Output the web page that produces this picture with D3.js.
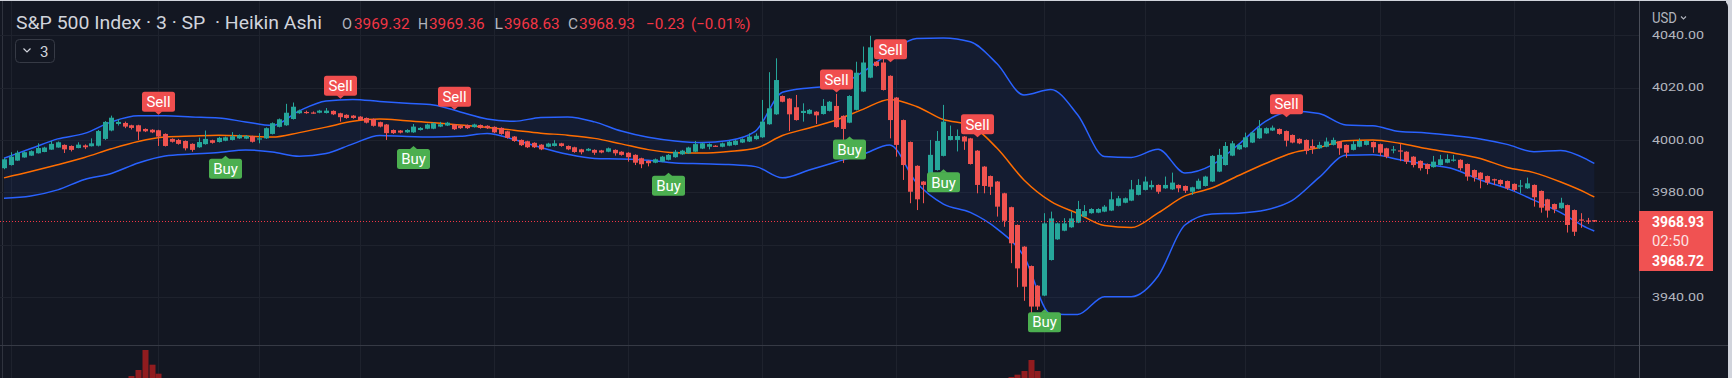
<!DOCTYPE html>
<html>
<head>
<meta charset="utf-8">
<script src="https://cdn.jsdelivr.net/npm/d3@7"></script>
<style>
  html, body { margin: 0; padding: 0; background: #d1d4dc; overflow: hidden; }
  svg { display: block; }
  text { font-family: Roboto, "Noto Sans", sans-serif; }
</style>
</head>
<body>
<div id="chart-area"></div>
<script>
// Heikin Ashi candles, one row per 3 min bar: open, close, high, low
var haCandles = [
  [3989.2,3992.6,3993.0,3988.8],[3990.4,3993.6,3995.3,3990.2],[3992.1,3995.1,3995.9,3992.0],[3993.3,3995.3,3995.6,3993.2],
  [3994.0,3995.7,3996.0,3993.9],[3994.9,3996.9,3998.7,3994.8],[3995.4,3997.1,3997.4,3995.3],[3996.3,3998.5,3999.6,3996.2],
  [3997.1,3999.1,3999.4,3997.0],[3998.1,3996.4,3998.3,3995.0],[3997.7,3996.2,3997.9,3995.6],[3996.9,3998.2,3999.1,3996.8],
  [3997.9,3997.2,3998.3,3996.5],[3997.6,3998.7,4000.6,3997.5],[3997.8,4003.4,4003.8,3997.5],[4000.4,4006.9,4007.2,4000.0],
  [4003.6,4008.5,4009.3,4003.3],[4006.1,4006.9,4008.0,4005.5],[4006.5,4005.1,4007.0,4004.5],[4005.6,4004.6,4005.8,4004.0],
  [4005.6,4003.2,4005.8,4000.0],[4004.2,4003.3,4004.4,4003.0],[4003.9,4002.9,4004.1,4002.6],[4003.7,4001.3,4003.9,3997.7],
  [4002.3,3997.7,4002.5,3997.5],[4000.4,3999.3,4000.6,3999.0],[4000.0,3998.5,4000.4,3998.2],[3999.6,3996.8,3999.8,3996.0],
  [3998.5,3996.2,3998.7,3995.5],[3997.2,3999.2,4000.9,3997.0],[3998.4,4000.4,4003.6,3998.2],[3999.9,3998.9,4000.1,3998.6],
  [3999.2,4000.8,4001.2,3999.0],[3999.7,4001.0,4001.3,3999.5],[4000.0,4001.4,4003.0,3999.8],[4000.6,4001.8,4002.1,4000.4],
  [4000.5,4001.5,4001.8,4000.3],[4001.4,3999.3,4001.6,3999.0],[4000.3,4000.6,4002.6,3998.7],[4000.6,4004.5,4004.8,4000.4],
  [4002.3,4006.4,4006.7,4002.1],[4005.0,4007.9,4008.2,4004.8],[4005.6,4010.4,4013.8,4005.4],[4008.0,4012.7,4014.3,4007.8],
  [4010.2,4011.2,4011.6,4010.0],[4010.7,4010.3,4011.2,4010.0],[4010.5,4010.3,4010.9,4010.0],[4010.4,4011.2,4011.5,4010.2],
  [4010.3,4011.2,4012.2,4010.1],[4011.1,4009.8,4011.3,4009.5],[4010.2,4008.7,4010.4,4007.0],[4009.6,4008.4,4009.8,4008.1],
  [4009.3,4008.4,4009.5,4008.1],[4008.9,4007.6,4009.1,4007.3],[4008.4,4006.6,4008.6,4006.3],[4008.0,4005.4,4008.2,4005.1],
  [4006.8,4005.1,4007.0,4004.8],[4005.9,4002.6,4006.1,4000.0],[4003.8,4002.6,4004.0,4002.3],[4003.6,4002.8,4003.8,4002.5],
  [4002.9,4003.8,4004.1,4002.7],[4002.9,4005.1,4006.1,4002.7],[4003.8,4004.6,4004.9,4003.6],[4004.3,4005.9,4006.2,4004.1],
  [4004.3,4006.4,4006.7,4004.1],[4005.1,4006.0,4006.9,4004.9],[4005.5,4006.6,4006.9,4005.3],[4005.9,4004.1,4006.1,4003.8],
  [4005.5,4004.5,4005.7,4004.2],[4005.7,4004.5,4005.9,4004.2],[4004.9,4005.9,4006.2,4004.7],[4005.7,4004.6,4005.9,4004.3],
  [4005.4,4004.5,4005.6,4004.2],[4005.0,4002.9,4005.2,4002.6],[4004.6,4002.3,4004.8,4002.0],[4003.3,4000.8,4003.5,4000.5],
  [4001.3,3999.6,4001.5,3999.3],[4000.0,3998.0,4000.2,3997.7],[3999.5,3997.2,3999.7,3996.9],[3998.9,3997.2,3999.1,3996.9],
  [3998.2,3996.4,3998.4,3996.1],[3997.4,3998.6,3998.9,3997.2],[3997.7,3998.7,3999.9,3997.5],[3998.7,3997.7,3998.9,3997.4],
  [3997.7,3996.4,3997.9,3996.1],[3997.2,3995.4,3997.4,3995.1],[3996.4,3995.3,3996.6,3994.5],[3995.9,3996.6,3996.9,3995.7],
  [3996.2,3995.1,3996.4,3994.3],[3996.0,3995.2,3996.2,3994.9],[3995.5,3996.8,3997.1,3995.3],[3996.2,3994.9,3996.4,3994.0],
  [3995.5,3994.3,3995.7,3994.0],[3995.1,3993.4,3995.3,3991.7],[3994.3,3991.3,3994.5,3990.4],[3993.0,3990.7,3993.2,3989.2],
  [3992.0,3991.1,3992.2,3989.9],[3991.3,3992.6,3992.9,3991.1],[3991.7,3993.6,3993.9,3991.5],[3992.4,3994.3,3994.6,3992.2],
  [3993.4,3995.5,3996.2,3993.2],[3994.5,3995.9,3996.2,3994.3],[3994.9,3997.1,3997.4,3994.7],[3995.5,3998.4,3999.6,3995.3],
  [3996.7,3998.7,3999.0,3996.5],[3997.4,3998.4,3998.7,3996.4],[3997.8,3997.6,3998.0,3997.4],[3997.4,3998.7,3999.0,3997.2],
  [3997.8,3999.3,3999.6,3997.6],[3998.1,3999.7,4000.0,3997.9],[3999.0,4000.3,4000.6,3998.8],[3999.4,4001.3,4002.5,3999.2],
  [4000.3,4001.6,4002.5,4000.1],[4001.0,4007.0,4015.3,4000.8],[4006.0,4012.1,4025.9,4005.8],[4009.8,4022.9,4031.2,4009.6],
  [4016.8,4014.6,4017.0,4014.4],[4015.8,4009.8,4016.0,4003.4],[4012.5,4007.6,4017.2,4007.4],[4010.3,4011.1,4014.0,4007.0],
  [4010.0,4011.5,4011.8,4009.8],[4010.8,4009.4,4011.0,4006.1],[4009.9,4013.0,4015.6,4009.7],[4011.1,4014.6,4014.9,4010.9],
  [4013.0,4004.9,4017.6,4004.7],[4009.2,4004.2,4009.4,3991.2],[4006.6,4016.8,4017.1,4006.4],[4011.5,4025.7,4029.9,4011.3],
  [4018.5,4029.6,4035.7,4018.3],[4023.8,4035.4,4039.8,4023.6],[4029.9,4028.3,4030.1,4028.0],[4029.6,4019.1,4031.0,4018.9],
  [4024.5,4007.6,4024.7,4000.6],[4016.2,3998.1,4016.4,3993.6],[4007.6,3990.4,4007.8,3984.7],[3999.2,3980.2,3999.4,3975.8],
  [3990.1,3977.3,3990.3,3973.2],[3984.1,3982.8,3984.3,3975.8],[3983.4,3994.3,4000.0,3983.2],[3988.5,3999.6,4003.4,3988.3],
  [3993.9,4007.0,4013.4,3993.7],[4000.0,4001.5,4005.5,3999.8],[4000.0,4001.5,4004.0,3995.6],[4001.3,3999.4,4001.5,3996.2],
  [4000.6,3990.8,4000.8,3990.6],[3995.9,3982.8,3996.1,3979.6],[3989.8,3982.4,3990.0,3979.6],[3986.2,3982.1,3986.4,3979.0],
  [3984.1,3974.5,3984.3,3970.7],[3979.6,3969.1,3979.8,3966.8],[3974.3,3960.5,3974.5,3952.9],[3967.5,3950.9,3967.7,3943.7],
  [3959.2,3943.9,3959.4,3938.5],[3951.8,3936.3,3952.0,3933.8],[3944.3,3936.3,3944.5,3935.0],[3940.5,3968.1,3972.0,3940.3],
  [3954.1,3970.0,3972.6,3953.9],[3962.0,3968.1,3968.4,3961.8],[3965.3,3968.1,3970.1,3965.1],[3966.6,3970.0,3972.6,3966.4],
  [3968.4,3973.6,3976.7,3968.2],[3970.7,3972.8,3975.1,3970.5],[3972.0,3973.6,3973.9,3971.8],[3972.2,3973.6,3973.9,3972.0],
  [3972.6,3974.5,3975.1,3972.4],[3973.0,3977.3,3980.2,3972.8],[3974.8,3977.7,3978.6,3974.6],[3976.0,3977.7,3978.0,3975.8],
  [3976.8,3981.1,3984.7,3976.6],[3979.0,3982.8,3985.0,3978.8],[3980.9,3984.1,3986.0,3980.7],[3981.9,3982.8,3984.5,3981.0],
  [3982.8,3980.2,3983.0,3979.4],[3981.5,3982.8,3986.0,3981.3],[3981.1,3983.7,3987.5,3980.9],[3982.8,3981.5,3983.0,3980.0],
  [3982.4,3980.6,3982.6,3979.7],[3980.2,3981.9,3982.1,3979.0],[3981.3,3984.4,3985.2,3981.1],[3982.4,3986.0,3986.3,3982.2],
  [3984.1,3993.9,3994.2,3983.9],[3987.9,3994.3,3996.6,3987.7],[3990.4,3997.7,3999.2,3990.2],[3994.0,3998.7,3999.6,3993.8],
  [3996.4,3998.1,3998.4,3996.2],[3997.2,4001.0,4002.8,3997.0],[3999.0,4002.8,4003.1,3998.8],[4000.6,4004.5,4007.6,4000.4],
  [4002.5,4004.5,4004.8,4002.3],[4003.6,4004.7,4005.5,4003.4],[4004.2,4002.3,4004.4,4002.0],[4003.4,3999.7,4003.6,3997.5],
  [4001.9,3999.0,4002.1,3998.7],[4000.4,3998.7,4000.6,3998.4],[4000.0,3995.8,4000.2,3994.5],[3997.7,3996.8,4000.2,3994.7],
  [3996.8,3998.1,3999.3,3996.6],[3997.4,3999.4,4000.9,3997.2],[3998.1,4000.0,4000.9,3997.9],[3999.4,3996.8,3999.6,3994.3],
  [3998.1,3995.1,3998.3,3993.2],[3996.2,3998.4,3999.6,3996.0],[3997.4,3999.6,4000.6,3997.2],[3998.1,3999.6,3999.9,3997.9],
  [3999.2,3997.2,3999.4,3995.1],[3998.4,3995.1,3998.6,3993.9],[3996.8,3993.6,3997.0,3993.0],[3996.0,3996.4,3997.7,3994.9],
  [3996.0,3995.7,3998.4,3991.9],[3995.5,3991.7,3995.7,3990.8],[3993.6,3990.4,3993.8,3989.5],[3992.0,3989.2,3992.2,3988.3],
  [3990.8,3988.9,3991.0,3986.9],[3989.6,3991.7,3993.9,3989.4],[3990.4,3992.6,3994.3,3990.2],[3991.3,3992.7,3994.5,3991.1],
  [3992.2,3992.5,3994.3,3991.7],[3992.4,3989.2,3992.6,3988.3],[3990.8,3986.0,3991.0,3984.4],[3988.5,3985.7,3988.7,3984.1],
  [3987.5,3985.0,3987.7,3981.5],[3986.2,3983.7,3986.4,3982.8],[3985.0,3984.5,3985.2,3982.8],[3984.7,3983.1,3984.9,3982.4],
  [3984.3,3981.5,3984.5,3980.9],[3983.2,3980.9,3983.4,3980.3],[3982.2,3982.6,3984.7,3979.6],[3981.5,3983.4,3985.6,3981.3],
  [3982.8,3978.1,3983.0,3974.5],[3980.5,3974.1,3980.7,3972.2],[3977.3,3973.0,3977.5,3970.3],[3975.5,3973.5,3975.7,3972.0],
  [3973.9,3976.0,3977.9,3973.7],[3975.1,3967.5,3975.3,3964.6],[3973.2,3964.9,3973.4,3963.3],[3969.6,3969.2,3972.0,3966.4],
  [3969.2,3968.9,3970.2,3967.9],[3969.32,3968.93,3969.36,3968.63]
];

// Bollinger bands, read every 4th bar
var bandIdx = [0,4,8,12,16,20,24,28,32,36,40,44,48,52,56,60,64,68,72,76,80,84,88,92,96,100,104,108,112,116,
  120,124,128,132,136,140,144,148,152,156,160,164,168,172,176,180,184,188,192,196,200,204,208,212,216,220,224,228,232,236,237];
var upperBand = [3993.0,3996.7,4000.4,4002.5,4006.9,4009.2,4009.2,4008.8,4008.4,4006.9,4005.5,4011.1,4014.9,4015.5,4014.7,
  4014.0,4013.4,4010.7,4008.0,4007.1,4008.6,4008.8,4006.9,4003.4,4001.0,3999.6,3999.0,3999.8,4003.4,4018.2,
  4019.9,4020.8,4026.0,4033.3,4038.8,4039.0,4037.5,4029.1,4017.2,4019.3,4009.6,3993.7,3993.3,3996.4,3987.4,
  3990.4,3998.3,4007.1,4011.1,4010.1,4005.7,4005.4,4003.2,4002.7,4001.7,4000.4,3998.3,3995.5,3996.0,3992.4,3991.0];
var basisBand = [3985.5,3987.9,3990.5,3993.3,3996.6,3999.4,4001.1,4001.5,4001.8,4001.5,4001.1,4002.8,4004.9,4007.1,4008.0,
  4007.3,4006.6,4005.7,4004.8,4003.7,4002.6,4001.8,4000.6,3998.5,3996.3,3995.1,3995.0,3995.6,3996.8,4001.7,
  4004.6,4007.6,4011.7,4015.5,4012.8,4007.8,4005.6,3996.8,3984.7,3976.5,3971.9,3967.3,3966.5,3972.1,3978.6,
  3981.6,3986.4,3991.0,3995.0,3997.1,3999.7,4000.0,3998.7,3996.7,3995.0,3992.9,3989.5,3987.5,3983.9,3979.5,3978.2];
var lowerBand = [3977.7,3978.6,3980.9,3984.9,3987.2,3991.2,3993.9,3994.6,3995.2,3996.2,3995.4,3993.8,3994.8,3998.5,4001.7,
  4001.3,4001.1,4001.4,4002.5,4000.2,3997.1,3994.5,3992.9,3992.7,3992.2,3991.2,3990.9,3990.6,3989.8,3985.5,
  3988.5,3991.6,3994.5,3998.1,3983.6,3975.5,3972.3,3966.0,3955.5,3933.5,3933.3,3940.1,3940.1,3948.0,3967.5,
  3971.7,3972.0,3973.2,3976.9,3985.7,3994.1,3994.3,3992.4,3990.6,3988.9,3984.7,3981.5,3977.0,3972.2,3966.3,3965.2];

// Buy / Sell signals (bar index, price at the label tip)
var sellIdx = [23, 50, 67, 124, 132, 145, 191];
var sellPrice = [4009.6, 4015.7, 4011.5, 4018.1, 4029.7, 4001.0, 4008.7];
var buyIdx = [33, 61, 99, 126, 140, 155];
var buyPrice = [3994.0, 3997.7, 3987.5, 4001.3, 3988.8, 3935.3];

// lower pane histogram
var histIdx = [19, 20, 21, 22, 23, 150, 151, 152, 153, 154];
var histVals = [2, 8, 28, 13.3, 4.3, 1, 3.3, 7, 18, 7];

var priceTicks = [4040, 4020, 4000, 3980, 3960, 3940];
var priceLabels = [4040, 4020, 4000, 3980, 3940];   // 3960 sits under the last price tag
var timeGridIdx = [1, 23, 38, 53, 73, 93, 113, 133, 155, 170, 185, 205, 225, 240];

var headerChange = "\u22120.23", headerPct = "(\u22120.01%)";
var bidLabel = "3968.72", countdown = "02:50";

var width = 1732, height = 378;
var plotW = 1639, mainH = 345;
var bg = "#131722", up = "#26a69a", down = "#ef5350";

var svg = d3.select("#chart-area")
    .append("svg")
        .attr("width", width)
        .attr("height", height);

// dark panel on light frame
svg.append("rect")
    .attr("x", -10).attr("y", 1)
    .attr("width", 1738).attr("height", 400)
    .attr("rx", 6)
    .attr("fill", bg);
svg.append("line")
    .attr("x1", 2.5).attr("x2", 2.5).attr("y1", 1).attr("y2", height)
    .attr("stroke", "#2f333e");

var x = d3.scaleLinear().domain([0, 237]).range([4, 1594.3]);
var y = d3.scaleLinear().domain([3940, 4040]).range([296.9, 35.3]);
var yh = d3.scaleLinear().domain([0, 30]).range([378, 348]);

// grid
var grid = svg.append("g");
grid.selectAll(".hgrid")
    .data(priceTicks)
    .enter().append("line")
        .attr("x1", 0).attr("x2", plotW)
        .attr("y1", d => Math.round(y(d)) + 0.5)
        .attr("y2", d => Math.round(y(d)) + 0.5)
        .attr("stroke", "#1e222d");
grid.selectAll(".vgrid")
    .data(timeGridIdx)
    .enter().append("line")
        .attr("x1", d => Math.round(x(d)) + 0.5)
        .attr("x2", d => Math.round(x(d)) + 0.5)
        .attr("y1", 1).attr("y2", height)
        .attr("stroke", "#1e222d");

svg.append("clipPath").attr("id", "plot-clip")
    .append("rect").attr("x", 0).attr("y", 0).attr("width", plotW).attr("height", mainH);

var g = svg.append("g").attr("clip-path", "url(#plot-clip)");

// Bollinger bands
var bands = bandIdx.map((d, i) => ({ i: d, u: upperBand[i], m: basisBand[i], l: lowerBand[i] }));

g.append("path")
    .datum(bands)
    .attr("fill", "rgba(41, 98, 255, 0.07)")
    .attr("d", d3.area()
        .x(d => x(d.i))
        .y0(d => y(d.l))
        .y1(d => y(d.u))
        .curve(d3.curveMonotoneX));

[["u", "#2962ff"], ["l", "#2962ff"], ["m", "#ff6d00"]].forEach(function (s) {
    g.append("path")
        .datum(bands)
        .attr("fill", "none")
        .attr("stroke", s[1])
        .attr("stroke-width", 1.5)
        .attr("d", d3.line()
            .x(d => x(d.i))
            .y(d => y(d[s[0]]))
            .curve(d3.curveMonotoneX));
});

// candles
var candles = g.selectAll(".candle")
    .data(haCandles)
    .enter().append("g");

candles.append("line")
    .attr("x1", (d, i) => Math.round(x(i)) + 0.5)
    .attr("x2", (d, i) => Math.round(x(i)) + 0.5)
    .attr("y1", d => y(d[2]))
    .attr("y2", d => y(d[3]))
    .attr("stroke", d => d[1] >= d[0] ? up : down);

candles.append("rect")
    .attr("x", (d, i) => Math.round(x(i)) - 2)
    .attr("width", 5)
    .attr("y", d => y(Math.max(d[0], d[1])))
    .attr("height", d => Math.max(1.2, Math.abs(y(d[0]) - y(d[1]))))
    .attr("fill", d => d[1] >= d[0] ? up : down);

// last price line
var lastClose = haCandles[haCandles.length - 1][1];
g.append("line")
    .attr("x1", 0).attr("x2", plotW)
    .attr("y1", Math.round(y(lastClose)) + 0.5)
    .attr("y2", Math.round(y(lastClose)) + 0.5)
    .attr("stroke", "#f23645")
    .attr("stroke-dasharray", "1,2");

// signal labels
function drawLabel(idx, price, text, color, isSell) {
    var cx = Math.round(x(idx)) + 0.5, ty = y(price);
    var w = 33, h = 20, tri = 3;
    var top = isSell ? ty - tri - h : ty + tri;
    var lab = g.append("g");
    lab.append("rect")
        .attr("x", cx - w / 2).attr("y", top)
        .attr("width", w).attr("height", h)
        .attr("rx", 2.5)
        .attr("fill", color);
    lab.append("path")
        .attr("d", isSell
            ? "M" + (cx - 4) + "," + (ty - tri - 0.5) + "L" + cx + "," + ty + "L" + (cx + 4) + "," + (ty - tri - 0.5) + "Z"
            : "M" + (cx - 4) + "," + (ty + tri + 0.5) + "L" + cx + "," + ty + "L" + (cx + 4) + "," + (ty + tri + 0.5) + "Z")
        .attr("fill", color);
    lab.append("text")
        .attr("x", cx).attr("y", top + h / 2 + 5.3)
        .attr("text-anchor", "middle")
        .attr("font-size", "15px")
        .attr("fill", "#ffffff")
        .text(text);
}
sellIdx.forEach((d, i) => drawLabel(d, sellPrice[i], "Sell", "#f04e4e", true));
buyIdx.forEach((d, i) => drawLabel(d, buyPrice[i], "Buy", "#4caf50", false));

// lower pane
svg.append("g").selectAll("rect")
    .data(histIdx)
    .enter().append("rect")
        .attr("x", d => Math.round(x(d)) - 2.5)
        .attr("width", 6)
        .attr("y", (d, i) => yh(histVals[i]))
        .attr("height", (d, i) => yh(0) - yh(histVals[i]))
        .attr("fill", "#911c1f");

// separators
svg.append("line")
    .attr("x1", 0).attr("x2", 1728)
    .attr("y1", mainH + 0.5).attr("y2", mainH + 0.5)
    .attr("stroke", "#363a45");
svg.append("line")
    .attr("x1", plotW + 0.5).attr("x2", plotW + 0.5)
    .attr("y1", 1).attr("y2", height)
    .attr("stroke", "#4a4e59");

// price axis
var yAxisCall = d3.axisRight(y)
    .tickValues(priceLabels)
    .tickSize(0)
    .tickPadding(13)
    .tickFormat(d3.format(".2f"));

var yAxisG = svg.append("g")
    .attr("transform", "translate(" + plotW + ",0)")
    .attr("font-family", "Roboto, sans-serif")
    .attr("font-size", 15)
    .call(yAxisCall);
yAxisG.select(".domain").remove();
yAxisG.selectAll("text")
    .attr("fill", "#b2b5be")
    .attr("textLength", 52)
    .attr("lengthAdjust", "spacingAndGlyphs");

// currency button over the top of the axis
svg.append("rect")
    .attr("x", plotW + 1).attr("y", 1)
    .attr("width", 86).attr("height", 29)
    .attr("fill", bg);
svg.append("text")
    .attr("x", plotW + 13).attr("y", 23)
    .attr("font-size", "15px")
    .attr("fill", "#b2b5be")
    .attr("textLength", 25)
    .attr("lengthAdjust", "spacingAndGlyphs")
    .text("USD");
svg.append("path")
    .attr("d", "M1681,16.5L1683.5,19L1686,16.5")
    .attr("fill", "none")
    .attr("stroke", "#b2b5be")
    .attr("stroke-width", 1.1);

// last price label
var ly = Math.round(y(lastClose));
svg.append("rect")
    .attr("x", plotW).attr("y", ly - 10)
    .attr("width", 74).attr("height", 60)
    .attr("fill", "#f05252");
svg.append("text")
    .attr("x", plotW + 13).attr("y", ly + 6)
    .attr("font-size", "15px").attr("font-weight", "bold")
    .attr("fill", "#ffffff")
    .attr("textLength", 52).attr("lengthAdjust", "spacingAndGlyphs")
    .text(d3.format(".2f")(lastClose));
svg.append("text")
    .attr("x", plotW + 13).attr("y", ly + 25)
    .attr("font-size", "15px")
    .attr("fill", "rgba(255,255,255,0.85)")
    .attr("textLength", 37).attr("lengthAdjust", "spacingAndGlyphs")
    .text(countdown);
svg.append("text")
    .attr("x", plotW + 13).attr("y", ly + 45)
    .attr("font-size", "15px").attr("font-weight", "bold")
    .attr("fill", "#ffffff")
    .attr("textLength", 52).attr("lengthAdjust", "spacingAndGlyphs")
    .text(bidLabel);

// header
var last = haCandles[haCandles.length - 1];
svg.append("text")
    .attr("x", 16).attr("y", 28.5)
    .attr("font-size", "18px")
    .attr("fill", "#d1d4dc")
    .style("white-space", "pre")
    .attr("textLength", 306).attr("lengthAdjust", "spacingAndGlyphs")
    .text("S&P 500 Index \u00b7 3 \u00b7 SP  \u00b7 Heikin Ashi");

var fmt = d3.format(".2f");
var headerParts = [
    ["O", 342, 10, "#b2b5be"], [fmt(last[0]), 354, 55.6, "#f23645"],
    ["H", 418, 10, "#b2b5be"], [fmt(last[2]), 429, 55.6, "#f23645"],
    ["L", 494.5, 8.5, "#b2b5be"], [fmt(last[3]), 504, 55.6, "#f23645"],
    ["C", 568, 10, "#b2b5be"], [fmt(last[1]), 579, 56, "#f23645"],
    [headerChange, 646, 38.5, "#f23645"], [headerPct, 691, 59.5, "#f23645"]
];
headerParts.forEach(function (p) {
    svg.append("text")
        .attr("x", p[1]).attr("y", 28.5)
        .attr("font-size", "15px")
        .attr("fill", p[3])
        .attr("textLength", p[2]).attr("lengthAdjust", "spacingAndGlyphs")
        .text(p[0]);
});

// indicator collapse button
svg.append("rect")
    .attr("x", 15.5).attr("y", 39.5)
    .attr("width", 39).attr("height", 23)
    .attr("rx", 4)
    .attr("fill", "none")
    .attr("stroke", "#363a45");
svg.append("path")
    .attr("d", "M23.5,48.5L27,52L30.5,48.5")
    .attr("fill", "none")
    .attr("stroke", "#d1d4dc")
    .attr("stroke-width", 1.2);
svg.append("text")
    .attr("x", 40).attr("y", 56.5)
    .attr("font-size", "15px")
    .attr("fill", "#d1d4dc")
    .text("3");
</script>
</body>
</html>
